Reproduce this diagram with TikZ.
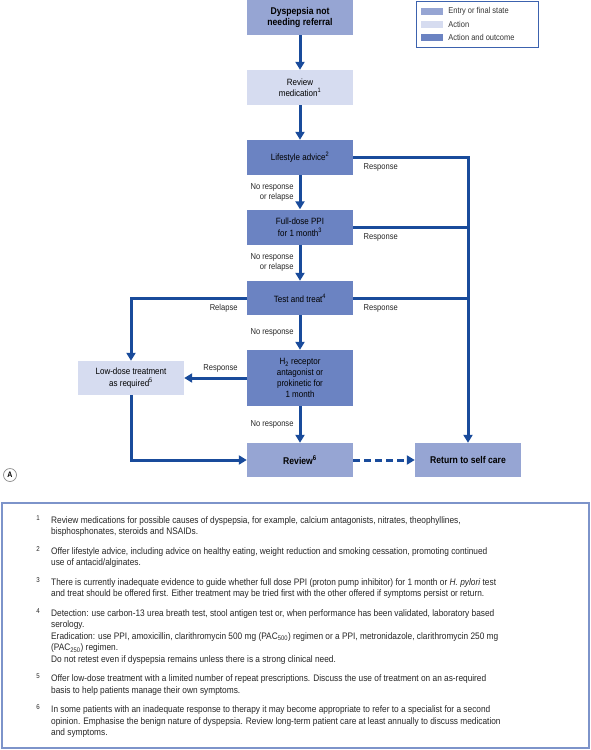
\documentclass[tikz,border=0pt]{standalone}
\usepackage{fontspec}
\setmainfont{Liberation Sans}[FakeStretch=0.88]
\usetikzlibrary{arrows.meta, positioning}
\definecolor{entryblue}{RGB}{150, 165, 211}
\definecolor{actionblue}{RGB}{214, 220, 240}
\definecolor{outcomeblue}{RGB}{107, 131, 194}
\definecolor{flowblue}{RGB}{25, 75, 155}
\definecolor{legendblue}{RGB}{60, 98, 174}
\definecolor{frameblue}{RGB}{125, 148, 202}
\tikzset{
    stepbox/.style={rectangle, minimum width=106pt, minimum height=35pt, inner sep=2pt, align=center, font=\fontsize{9.1}{11.5}\selectfont},
    flow/.style={draw, -{Triangle[length=8pt, width=9pt]}, flowblue, line width=3pt},
    joinline/.style={draw, flowblue, line width=3pt},
    lbl/.style={font=\fontsize{8.6}{10}\selectfont, text=black!85, inner sep=1pt}
}
\begin{document}
\begin{tikzpicture}[
    x=1pt, y=-1pt,
    boldbox/.style={stepbox, font=\bfseries\fontsize{9.8}{11.5}\selectfont},
    note/.style={anchor=north west, inner sep=0pt, align=left, font=\fontsize{9.45}{11.5}\selectfont, text=black!85},
    notenum/.style={anchor=north, inner sep=0pt, font=\fontsize{7}{7}\selectfont, text=black!85},
    swatch/.style={rectangle, minimum width=22pt, minimum height=7pt, inner sep=0pt},
    legtext/.style={font=\fontsize{8.5}{9}\selectfont, text=black!80, inner sep=0pt, anchor=west}
]
    \useasboundingbox (0,0) rectangle (590,750);

    % Main column
    \node[boldbox, fill=entryblue] (dys) at (300, 17.5) {Dyspepsia not\\needing referral};
    \node[stepbox, fill=actionblue] (revmed) at (300, 87.5) {Review\\medication\textsuperscript{1}};
    \node[stepbox, fill=outcomeblue] (life) at (300, 157.5) {Lifestyle advice\textsuperscript{2}};
    \node[stepbox, fill=outcomeblue] (ppi) at (300, 227) {Full-dose PPI\\for 1 month\textsuperscript{3}};
    \node[stepbox, fill=outcomeblue, minimum height=34pt] (test) at (300, 298) {Test and treat\textsuperscript{4}};
    \node[stepbox, fill=outcomeblue, minimum height=56pt, font=\fontsize{9.1}{10.8}\selectfont] (htwo) at (300, 378) {H\textsubscript{2} receptor\\antagonist or\\prokinetic for\\1 month};
    \node[boldbox, fill=entryblue, minimum height=34pt] (review) at (300, 460) {Review\textsuperscript{6}};

    % Side boxes
    \node[stepbox, fill=actionblue, minimum height=34pt] (lowdose) at (131, 378) {Low-dose treatment\\as required\textsuperscript{5}};
    \node[boldbox, fill=entryblue, minimum height=34pt] (selfcare) at (468, 460) {Return to self care};

    \draw[flow] (dys) -- (revmed);
    \draw[flow] (revmed) -- (life);
    \draw[flow] (life) -- node[lbl, left=4pt, align=right] {No response\\or relapse} (ppi);
    \draw[flow] (ppi) -- node[lbl, left=4pt, align=right] {No response\\or relapse} (test);
    \draw[flow] (test) -- node[lbl, left=4pt] {No response} (htwo);
    \draw[flow] (htwo) -- node[lbl, left=4pt] {No response} (review);

    % Response branches
    \draw[flow] (life.east) -| node[lbl, pos=0.12, below=4pt] {Response} (selfcare.north);
    \draw[joinline] (ppi.east) -- node[lbl, pos=0.24, below=4pt] {Response} (ppi.east -| selfcare.north);
    \draw[joinline] (test.east) -- node[lbl, pos=0.24, below=4pt] {Response} (test.east -| selfcare.north);

    \draw[flow] (test.west) -| node[lbl, pos=0.1, below=4pt] {Relapse} (lowdose.north);
    \draw[flow] (htwo.west) -- node[lbl, pos=0.42, above=3pt] {Response} (lowdose.east);
    \draw[flow] (lowdose.south) |- (review.west);
    \draw[flow, dash pattern=on 7pt off 4pt] (review) -- (selfcare);

    \node[circle, draw=black!45, line width=0.7pt, minimum size=13pt, inner sep=0pt, font=\bfseries\fontsize{8}{8}\selectfont] (panel) at (10, 475) {A};

    % Legend
    \node[draw=legendblue, line width=1pt, minimum width=122pt, minimum height=46pt, inner sep=0pt] (legend) at (477, 24) {};
    \node[swatch, fill=entryblue] (sw1) at (432, 11) {};
    \node[swatch, fill=actionblue] (sw2) at (432, 24) {};
    \node[swatch, fill=outcomeblue] (sw3) at (432, 37) {};
    \node[legtext, right=5pt of sw1] (lg1) {Entry or final state};
    \node[legtext, right=5pt of sw2] (lg2) {Action};
    \node[legtext, right=5pt of sw3] (lg3) {Action and outcome};

    % Footnotes
    \node[draw=frameblue, line width=1.2pt, minimum width=587pt, minimum height=245pt, inner sep=0pt] (notes) at (295.5, 625.5) {};
    \node[notenum] (n1) at (38, 515) {1};
    \node[note] (fn1) at (51, 516) {Review medications for possible causes of dyspepsia, for example, calcium antagonists, nitrates, theophyllines,\\bisphosphonates, steroids and NSAIDs.};
    \node[notenum] (n2) at (38, 546) {2};
    \node[note] (fn2) at (51, 547) {Offer lifestyle advice, including advice on healthy eating, weight reduction and smoking cessation, promoting continued\\use of antacid/alginates.};
    \node[notenum] (n3) at (38, 577) {3};
    \node[note] (fn3) at (51, 578) {There is currently inadequate evidence to guide whether full dose PPI (proton pump inhibitor) for 1 month or \textit{H. pylori} test\\and treat should be offered first. Either treatment may be tried first with the other offered if symptoms persist or return.};
    \node[notenum] (n4) at (38, 608) {4};
    \node[note] (fn4) at (51, 609) {Detection: use carbon-13 urea breath test, stool antigen test or, when performance has been validated, laboratory based\\serology.\\Eradication: use PPI, amoxicillin, clarithromycin 500 mg (PAC\textsubscript{500}) regimen or a PPI, metronidazole, clarithromycin 250 mg\\(PAC\textsubscript{250}) regimen.\\Do not retest even if dyspepsia remains unless there is a strong clinical need.};
    \node[notenum] (n5) at (38, 673.5) {5};
    \node[note] (fn5) at (51, 674.5) {Offer low-dose treatment with a limited number of repeat prescriptions. Discuss the use of treatment on an as-required\\basis to help patients manage their own symptoms.};
    \node[notenum] (n6) at (38, 704.5) {6};
    \node[note] (fn6) at (51, 705.5) {In some patients with an inadequate response to therapy it may become appropriate to refer to a specialist for a second\\opinion. Emphasise the benign nature of dyspepsia. Review long-term patient care at least annually to discuss medication\\and symptoms.};

\end{tikzpicture}
\end{document}
